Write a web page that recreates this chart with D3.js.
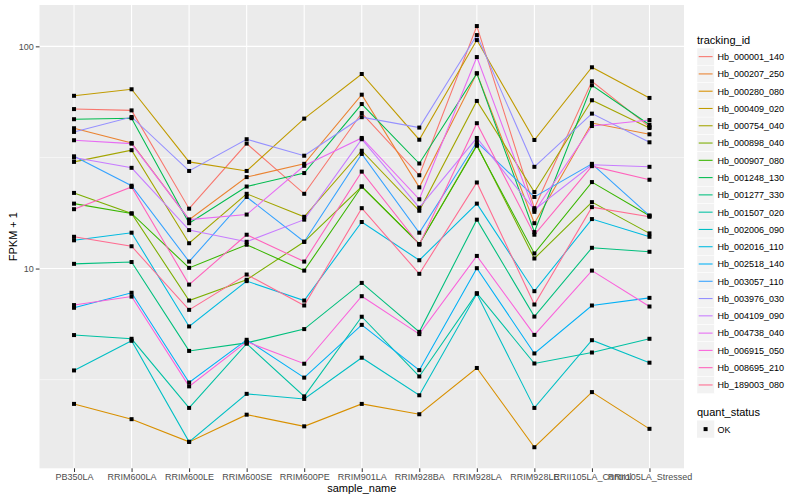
<!DOCTYPE html>
<meta charset="utf-8">
<title>FPKM by sample</title>
<body>
<script src="https://cdn.jsdelivr.net/npm/d3@7"></script>
<style>
html, body {
    margin: 0;
    background: #fff;
}
text {
    font-family: "Liberation Sans", Arial, sans-serif;
}
</style>
<script>
var samples = ["PB350LA", "RRIM600LA", "RRIM600LE", "RRIM600SE", "RRIM600PE", "RRIM901LA",
    "RRIM928BA", "RRIM928LA", "RRIM928LE", "RRII105LA_Control", "RRII105LA_Stressed"];

var trackingIds = ["Hb_000001_140", "Hb_000207_250", "Hb_000280_080", "Hb_000409_020", "Hb_000754_040",
    "Hb_000898_040", "Hb_000907_080", "Hb_001248_130", "Hb_001277_330", "Hb_001507_020",
    "Hb_002006_090", "Hb_002016_110", "Hb_002518_140", "Hb_003057_110", "Hb_003976_030",
    "Hb_004109_090", "Hb_004738_040", "Hb_006915_050", "Hb_008695_210", "Hb_189003_080"];

var colors = ["#F8766D", "#EA8331", "#D89000", "#C09B00", "#A3A500", "#7CAE00", "#39B600", "#00BB4E",
    "#00BF7D", "#00C1A3", "#00BFC4", "#00BAE0", "#00B0F6", "#35A2FF", "#9590FF", "#C77CFF",
    "#E76BF3", "#FA62DB", "#FF62BC", "#FF6C91"];

// FPKM + 1, one row per tracking id, one value per sample
var fpkm = [
    [52.2, 51.5, 18.6, 36.5, 21.7, 50.1, 26.3, 123.4, 18.7, 69.6, 43.4],
    [42.8, 36.7, 16.6, 25.8, 29.6, 60.6, 23.2, 75.6, 16.0, 45.2, 40.2],
    [2.46, 2.10, 1.66, 2.20, 1.95, 2.46, 2.21, 3.57, 1.57, 2.78, 1.90],
    [59.9, 64.1, 30.2, 27.5, 47.3, 75.1, 38.0, 106.7, 37.9, 80.5, 58.6],
    [30.2, 34.1, 13.0, 21.7, 17.1, 33.9, 18.2, 56.8, 22.1, 57.2, 42.9],
    [21.9, 17.7, 7.18, 8.90, 13.2, 23.4, 12.9, 36.0, 11.1, 19.9, 14.4],
    [19.6, 17.7, 10.07, 12.8, 9.79, 23.4, 12.9, 35.7, 11.7, 24.5, 17.3],
    [47.0, 47.5, 16.0, 23.4, 26.9, 55.0, 29.7, 75.6, 14.6, 66.8, 44.4],
    [10.5, 10.7, 4.26, 4.63, 5.34, 8.62, 5.19, 16.6, 6.08, 12.4, 11.9],
    [5.02, 4.83, 2.36, 4.59, 2.66, 6.07, 3.27, 7.75, 3.74, 4.19, 4.83],
    [3.48, 4.73, 1.66, 2.73, 2.59, 3.97, 2.69, 7.70, 2.36, 4.76, 3.77],
    [13.4, 14.5, 5.49, 8.78, 7.18, 16.2, 10.9, 19.6, 7.91, 16.7, 13.9],
    [6.66, 7.78, 3.07, 4.78, 3.23, 5.58, 3.49, 10.04, 4.15, 6.82, 7.38],
    [32.0, 23.6, 10.75, 21.0, 13.2, 32.8, 14.5, 37.1, 21.0, 29.6, 17.3],
    [41.2, 48.1, 27.5, 38.2, 32.2, 48.0, 43.1, 112.4, 28.7, 49.8, 37.0],
    [31.6, 28.4, 14.9, 13.2, 16.6, 38.2, 18.8, 38.7, 18.4, 29.3, 28.7],
    [37.8, 36.5, 16.6, 17.5, 29.0, 38.7, 20.5, 89.5, 18.0, 43.8, 46.6],
    [6.85, 7.48, 2.95, 4.68, 3.73, 7.51, 5.07, 11.4, 5.03, 9.79, 6.75],
    [18.5, 23.3, 8.47, 14.2, 10.75, 27.3, 12.8, 45.1, 14.2, 28.9, 25.1],
    [13.9, 12.6, 6.52, 9.40, 6.82, 18.7, 9.47, 24.4, 6.89, 18.9, 17.1]
];

var yTicks = [10, 100];
var yMinor = [Math.sqrt(10), Math.sqrt(1000)];

var width = 800,
    height = 500,
    panelLeft = 39.5,
    panelRight = 684,
    panelTop = 5,
    panelBottom = 468.3;

var svg = d3.select("body").append("svg")
    .attr("width", width)
    .attr("height", height);

var all = d3.merge(fpkm),
    lo = Math.log10(d3.min(all)),
    hi = Math.log10(d3.max(all)),
    pad = (hi - lo) * 0.05;

var x = d3.scalePoint()
    .domain(samples)
    .range([panelLeft, panelRight])
    .padding(0.6);

var y = d3.scaleLog()
    .domain([Math.pow(10, lo - pad), Math.pow(10, hi + pad)])
    .range([panelBottom, panelTop]);

svg.append("rect")
    .attr("x", panelLeft)
    .attr("y", panelTop)
    .attr("width", panelRight - panelLeft)
    .attr("height", panelBottom - panelTop)
    .attr("fill", "#EBEBEB");

svg.selectAll(".minor")
    .data(yMinor)
    .enter().append("line")
    .attr("x1", panelLeft).attr("x2", panelRight)
    .attr("y1", function(d) { return y(d); })
    .attr("y2", function(d) { return y(d); })
    .attr("stroke", "#fff")
    .attr("stroke-width", 0.55);

svg.selectAll(".hgrid")
    .data(yTicks)
    .enter().append("line")
    .attr("x1", panelLeft).attr("x2", panelRight)
    .attr("y1", function(d) { return y(d); })
    .attr("y2", function(d) { return y(d); })
    .attr("stroke", "#fff")
    .attr("stroke-width", 1.1);

svg.selectAll(".vgrid")
    .data(samples)
    .enter().append("line")
    .attr("x1", function(d) { return x(d); })
    .attr("x2", function(d) { return x(d); })
    .attr("y1", panelTop).attr("y2", panelBottom)
    .attr("stroke", "#fff")
    .attr("stroke-width", 1.1);

var line = d3.line()
    .x(function(d, i) { return x(samples[i]); })
    .y(function(d) { return y(d); });

svg.selectAll(".series")
    .data(fpkm)
    .enter().append("path")
    .attr("d", line)
    .attr("fill", "none")
    .attr("stroke", function(d, i) { return colors[i]; })
    .attr("stroke-width", 1.07);

fpkm.forEach(function(row) {
    svg.selectAll(null)
        .data(row)
        .enter().append("rect")
        .attr("x", function(d, i) { return x(samples[i]) - 2; })
        .attr("y", function(d) { return y(d) - 2; })
        .attr("width", 4)
        .attr("height", 4)
        .attr("fill", "#000");
});

// axes
var yAxis = svg.append("g")
    .attr("transform", "translate(" + panelLeft + ",0)")
    .call(d3.axisLeft(y).tickValues(yTicks).tickFormat(d3.format("d")).tickSize(3.7).tickPadding(2));

var xAxis = svg.append("g")
    .attr("transform", "translate(0," + panelBottom + ")")
    .call(d3.axisBottom(x).tickSize(3.7).tickPadding(2));

[xAxis, yAxis].forEach(function(g) {
    g.select(".domain").remove();
    g.selectAll(".tick line").attr("stroke", "#333");
    g.selectAll(".tick text")
        .attr("fill", "#4D4D4D")
        .style("font-size", "9px")
        .style("font-family", "'Liberation Sans', Arial, sans-serif");
});

svg.append("text")
    .attr("x", (panelLeft + panelRight) / 2)
    .attr("y", 492)
    .attr("text-anchor", "middle")
    .style("font-size", "11px")
    .text("sample_name");

svg.append("text")
    .attr("transform", "translate(17," + (panelTop + panelBottom) / 2 + ") rotate(-90)")
    .attr("text-anchor", "middle")
    .style("font-size", "11px")
    .text("FPKM + 1");

// legends
var legend = svg.append("g")
    .attr("transform", "translate(697,0)");

legend.append("text")
    .attr("x", 0)
    .attr("y", 44)
    .style("font-size", "11px")
    .text("tracking_id");

var keys = legend.selectAll(".key")
    .data(trackingIds)
    .enter().append("g")
    .attr("transform", function(d, i) { return "translate(0," + (48 + i * 17.28) + ")"; });

keys.append("rect")
    .attr("width", 17.28)
    .attr("height", 17.28)
    .attr("fill", "#F2F2F2")
    .attr("stroke", "#fff")
    .attr("stroke-width", 0.5);

keys.append("line")
    .attr("x1", 1.7).attr("x2", 15.6)
    .attr("y1", 8.64).attr("y2", 8.64)
    .attr("stroke", function(d, i) { return colors[i]; })
    .attr("stroke-width", 1.07);

keys.append("text")
    .attr("x", 20.5)
    .attr("y", 12)
    .style("font-size", "9px")
    .text(function(d) { return d; });

legend.append("text")
    .attr("x", 0)
    .attr("y", 416)
    .style("font-size", "11px")
    .text("quant_status");

var ok = legend.append("g")
    .attr("transform", "translate(0,420.5)");

ok.append("rect")
    .attr("width", 17.28)
    .attr("height", 17.28)
    .attr("fill", "#F2F2F2");

ok.append("rect")
    .attr("x", 6.6).attr("y", 6.6)
    .attr("width", 4).attr("height", 4)
    .attr("fill", "#000");

ok.append("text")
    .attr("x", 20.5)
    .attr("y", 12)
    .style("font-size", "9px")
    .text("OK");
</script>
